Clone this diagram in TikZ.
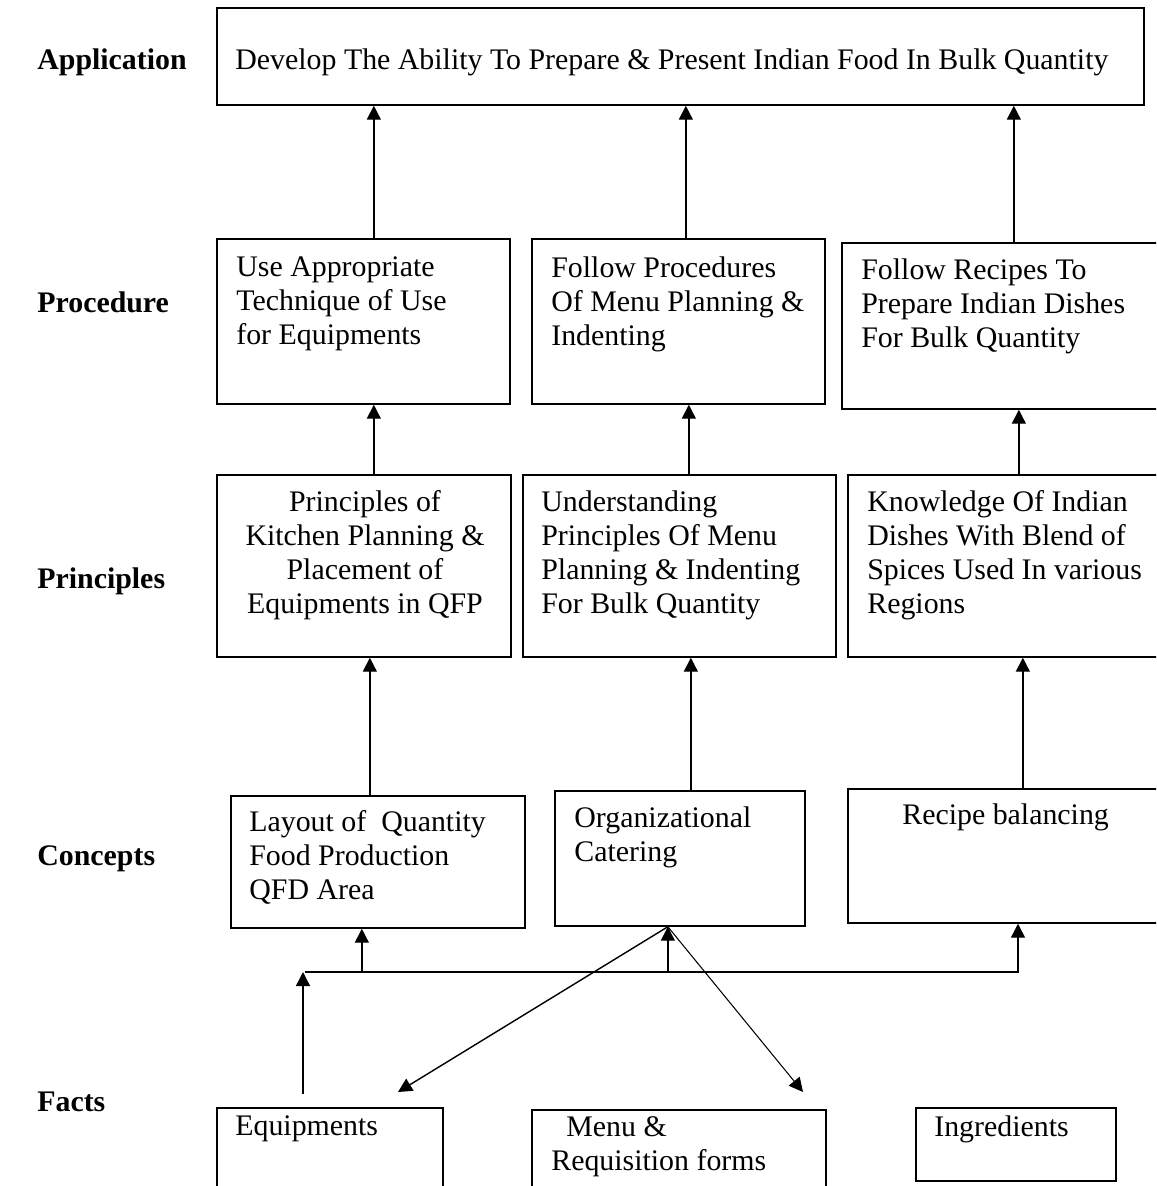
\documentclass[tikz,border=0pt]{standalone}
\usepackage{fontspec}
\setmainfont{Liberation Serif}
\usetikzlibrary{arrows.meta,positioning}

\begin{document}
\begin{tikzpicture}[
  x=0.02cm, y=-0.02cm,
  font=\fontsize{17}{19.4}\selectfont,
  box/.style={draw,line width=1pt,anchor=north west,inner sep=0pt},
  txt/.style={align=left,anchor=north west,inner sep=0pt},
  lvl/.style={font=\fontsize{17}{19.4}\selectfont\bfseries,anchor=base west,inner sep=0pt},
  arr/.style={-{Triangle[length=0.28cm,width=0.28cm]},line width=0.8pt}
]
  \useasboundingbox (0,0) rectangle (1156,1186);
  \clip (0,0) rectangle (1156,1186);

  % level names
  \node[lvl] (lapp) at (37,70) {Application};
  \node[lvl] (lproc) at (37,312) {Procedure};
  \node[lvl] (lprin) at (37,588) {Principles};
  \node[lvl] (lcon) at (37,865) {Concepts};
  \node[lvl] (lfact) at (37,1111) {Facts};

  % boxes
  \node[box,minimum width=18.54cm,minimum height=1.94cm] (app) at (216,7) {};
  \node[box,minimum width=5.86cm,minimum height=3.30cm] (p1) at (216,238) {};
  \node[box,minimum width=5.86cm,minimum height=3.30cm] (p2) at (531,238) {};
  \node[box,minimum width=6.38cm,minimum height=3.32cm] (p3) at (841,242) {};
  \node[box,minimum width=5.88cm,minimum height=3.64cm] (r1) at (216,474) {};
  \node[box,minimum width=6.26cm,minimum height=3.64cm] (r2) at (522,474) {};
  \node[box,minimum width=6.26cm,minimum height=3.64cm] (r3) at (847,474) {};
  \node[box,minimum width=5.88cm,minimum height=2.64cm] (c1) at (230,795) {};
  \node[box,minimum width=5.00cm,minimum height=2.70cm] (c2) at (554,790) {};
  \node[box,minimum width=6.26cm,minimum height=2.68cm] (c3) at (847,788) {};
  \node[box,minimum width=4.52cm,minimum height=2.00cm] (f1) at (216,1107) {};
  \node[box,minimum width=5.88cm,minimum height=2.00cm] (f2) at (531,1109) {};
  \node[box,minimum width=4.00cm,minimum height=1.46cm] (f3) at (915,1107) {};

  % texts
  \node[txt] (appt) at (235,48) {Develop The Ability To Prepare \& Present Indian Food In Bulk Quantity};
  \node[txt] (p1t) at (236,256) {Use Appropriate\\Technique of Use\\for Equipments};
  \node[txt] (p2t) at (551,256) {Follow Procedures\\Of Menu Planning \&\\Indenting};
  \node[txt] (p3t) at (861,258) {Follow Recipes To\\Prepare Indian Dishes\\For Bulk Quantity};
  \node[txt,align=center,anchor=north] (r1t) at (365,490) {Principles of\\Kitchen Planning \&\\Placement of\\Equipments in QFP};
  \node[txt] (r2t) at (541,490) {Understanding\\Principles Of Menu\\Planning \& Indenting\\For Bulk Quantity};
  \node[txt] (r3t) at (867,490) {Knowledge Of Indian\\Dishes With Blend of\\Spices Used In various\\Regions};
  \node[txt] (c1t) at (249,810) {Layout of\ \ Quantity\\Food Production\\QFD Area};
  \node[txt] (c2t) at (574,806) {Organizational\\Catering};
  \node[txt] (c3t) at (902,803) {Recipe balancing};
  \node[txt] (f1t) at (235,1115) {Equipments};
  \node[txt] (f2t) at (551,1116) {\hspace*{0.3cm}Menu \&\\Requisition forms};
  \node[txt] (f3t) at (934,1115) {Ingredients};

  % upward arrows between levels
  \foreach \src/\dst/\dx in {p1/app/0.21cm, p2/app/0.15cm, p3/app/0.25cm,
                             r1/p1/0.2cm, r2/p2/0.19cm, r3/p3/0.29cm,
                             c1/r1/-0.16cm, c2/r2/0.22cm, c3/r3/0.37cm} {
    \draw[arr] ([xshift=\dx]\src.north) -- ([xshift=\dx]\src.north |- \dst.south);
  }

  % links from the facts
  \coordinate (busl) at (305,972);
  \coordinate (busr) at (1018,972);
  \coordinate (tap) at (303,1094);
  \coordinate (c2b) at ([xshift=-0.24cm]c2.south);
  \coordinate (eqtip) at (398,1092);
  \coordinate (menutip) at (803,1092);

  \draw[arr] (busl) -- (busr) -- (busr |- c3.south);
  \draw[arr] ([xshift=-0.32cm]c1.south |- busl) -- ([xshift=-0.32cm]c1.south);
  \draw[arr] (c2b |- busl) -- (c2b);
  \draw[arr] (tap) -- (tap |- busl);
  \draw[arr] (c2b) -- (eqtip);
  \draw[arr,line width=0.6pt] (c2b) -- (menutip);
\end{tikzpicture}
\end{document}
